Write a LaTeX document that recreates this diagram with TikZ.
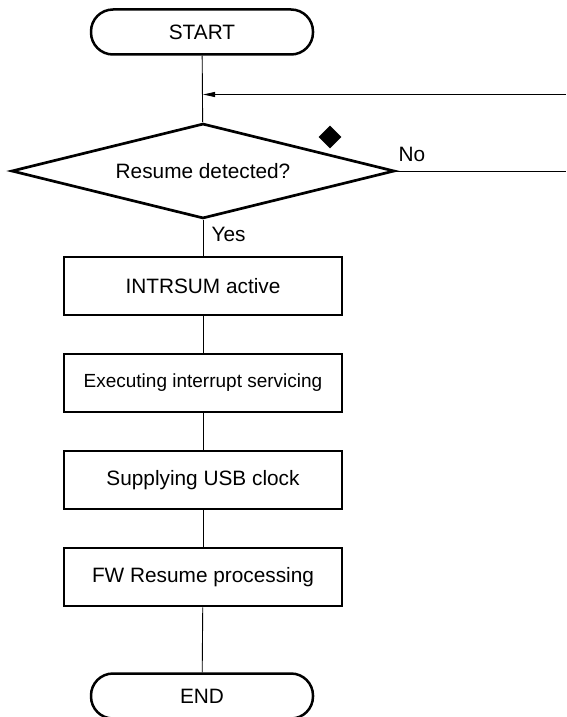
\documentclass[tikz,border=0pt]{standalone}
\usepackage{fontspec}
\setmainfont{Liberation Sans}
\usetikzlibrary{shapes.geometric, arrows.meta}

\begin{document}
\begin{tikzpicture}[x=1pt, y=-1pt, >={Stealth[length=12pt,width=5pt,inset=0pt]},
  font=\fontsize{20.8}{24}\selectfont,
  terminal/.style={draw, line width=2.5pt, rounded corners=22pt, minimum width=222pt, minimum height=45pt, inner sep=0pt},
  process/.style={draw, line width=2.7pt, minimum width=278pt, minimum height=58pt, inner sep=0pt},
  decision/.style={draw, diamond, aspect=4, line width=2.7pt, minimum width=383pt, minimum height=95pt, inner sep=0pt},
  flow/.style={line width=0.9pt}]
  \useasboundingbox (0,0) rectangle (566,717);
  \node[terminal] (start) at (202,32) {START};
  \node[decision] (chk) at (203,171) {Resume detected?};
  \node[process] (act) at (203,286) {INTRSUM active};
  \node[process, font=\fontsize{19}{22}\selectfont] (isr) at (203,383) {Executing interrupt servicing};
  \node[process] (clk) at (203,480) {Supplying USB clock};
  \node[process] (fw) at (203,577) {FW Resume processing};
  \node[terminal] (end) at (202,696) {END};
  \node[diamond, fill, inner sep=0pt, minimum size=23pt] (mark) at (330,137) {};
  \node (no) at (412,154) {No};
  \node[anchor=west] (yes) at (208,234) {Yes};
  \coordinate (loopin) at (566,94.5);
  \coordinate (noout) at (566,171);
  \draw[flow] (start) -- (chk);
  \draw[flow,->] (loopin) -- (loopin -| chk.north);
  \draw[flow] (chk.east) -- (noout);
  \draw[flow] (chk) -- (act);
  \draw[flow] (act) -- (isr);
  \draw[flow] (isr) -- (clk);
  \draw[flow] (clk) -- (fw);
  \draw[flow] (fw) -- (end);
\end{tikzpicture}
\end{document}
